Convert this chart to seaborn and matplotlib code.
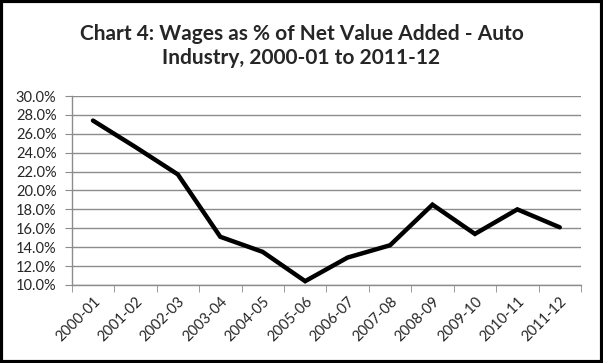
import pandas as pd
import numpy as np
import matplotlib
matplotlib.use("Agg")
import matplotlib.pyplot as plt
import seaborn as sns
from matplotlib.ticker import FixedLocator, FuncFormatter
from matplotlib.patches import Rectangle

# Data
years = ["2000-01", "2001-02", "2002-03", "2003-04", "2004-05", "2005-06",
         "2006-07", "2007-08", "2008-09", "2009-10", "2010-11", "2011-12"]
wage_share = [27.4, 24.6, 21.7, 15.1, 13.5, 10.4, 12.9, 14.2, 18.5, 15.4, 18.0, 16.1]

df = pd.DataFrame({"pos": np.arange(len(years)), "year": years, "share": wage_share})

sns.set_style("white")
plt.rcParams["font.family"] = ["Lato", "DejaVu Sans"]

fig = plt.figure(figsize=(6.03, 3.63), dpi=100)
ax = fig.add_axes([0.119, 0.215, 0.8445, 0.5205])

# horizontal gridlines
for y in range(10, 31, 2):
    ax.axhline(y, color="#8c8c8c", lw=1.0, zorder=0)

sns.lineplot(data=df, x="pos", y="share", color="black", lw=3.2, ax=ax,
             solid_capstyle="round", solid_joinstyle="miter")

ax.set_xlim(-0.5, len(years) - 0.5)
ax.set_ylim(10, 30)
ax.set_yticks(range(10, 31, 2))
ax.yaxis.set_major_formatter(FuncFormatter(lambda v, p: f"{v:.1f}%"))
ax.set_xticks(df["pos"])
ax.set_xticklabels(years, rotation=45, ha="right", rotation_mode="anchor")
ax.xaxis.set_minor_locator(FixedLocator(np.arange(-0.5, len(years), 1.0)))
ax.tick_params(axis="x", which="major", length=0, pad=7, labelsize=10.5)
ax.tick_params(axis="x", which="minor", length=5, color="#8c8c8c", direction="out", bottom=True)
ax.tick_params(axis="y", length=5, color="#8c8c8c", direction="out", left=True, labelsize=10.5, pad=6)
ax.set_xlabel("")
ax.set_ylabel("")

for side in ["top", "right"]:
    ax.spines[side].set_visible(False)
for side in ["left", "bottom"]:
    ax.spines[side].set_color("#8c8c8c")
    ax.spines[side].set_linewidth(1.0)

fig.text(0.5, 0.872, "Chart 4: Wages as % of Net Value Added - Auto\nIndustry, 2000-01 to 2011-12",
         ha="center", va="center", fontsize=15, fontweight="bold", linespacing=1.25)

# outer frame
fig.patches.append(Rectangle((0.002, 0.003), 0.996, 0.994, transform=fig.transFigure,
                             fill=False, edgecolor="black", lw=3))

fig.savefig("out.png", dpi=100)
